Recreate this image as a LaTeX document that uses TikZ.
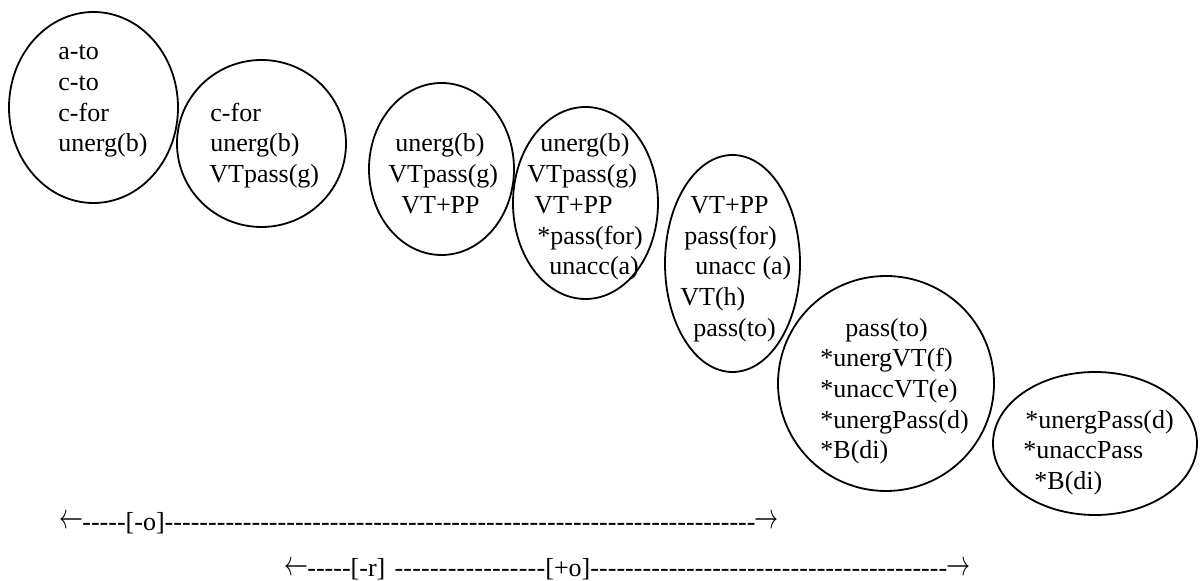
\documentclass[tikz,border=0pt]{standalone}
\usepackage{fontspec}
\setmainfont{Liberation Serif}
\usetikzlibrary{shapes.geometric}
\newcommand\dashrun[1]{\hbox to #1{\xleaders\hbox{-}\hfill}}
\newcommand\hy{\hbox{-}}
\newcommand\tallarrow[1]{\scalebox{1}[1.5]{$#1$}}
\tikzset{
  ell/.style={draw, ellipse, line width=0.9pt, inner sep=0pt},
  lbl/.style={anchor=base west, inner sep=0pt, font=\fontsize{13}{15}\selectfont},
  arr/.style={anchor=center, inner sep=0pt, font=\fontsize{11.5}{13}\selectfont}
}
\begin{document}
\begin{tikzpicture}[x=0.5pt, y=-0.5pt]
\useasboundingbox (0,0) rectangle (1200,581);
% ellipses: center (px), minimum width/height = rx, ry in pt (2r px)
\node[ell, minimum width=84.5pt, minimum height=95.5pt] (e1) at (93.5,107.5) {};
\node[ell, minimum width=84.5pt, minimum height=83.5pt] (e2) at (261.5,143.5) {};
\node[ell, minimum width=72.5pt, minimum height=86pt] (e3) at (441.5,169) {};
\node[ell, minimum width=72.5pt, minimum height=96pt] (e4) at (585.5,203) {};
\node[ell, minimum width=67.5pt, minimum height=108.5pt] (e5) at (732.5,263.5) {};
\node[ell, minimum width=108pt, minimum height=107.5pt] (e6) at (886,383.5) {};
\node[ell, minimum width=102pt, minimum height=71.5pt] (e7) at (1095,443.5) {};
% text lines
\foreach \x/\r/\t [count=\i] in {
  58/0/a-to, 58/1/c-to, 58/2/c-for, 58/3/unerg(b),
  210/2/c-for, 210/3/unerg(b), 209/4/VTpass(g),
  395/3/unerg(b), 388/4/VTpass(g), 401/5/VT+PP,
  540/3/unerg(b), 527/4/VTpass(g), 534/5/VT+PP, 537/6/*pass(for), 549/7/unacc(a),
  690/5/VT+PP, 684/6/pass(for), 695/7/unacc (a), 680/8/VT(h), 693/9/pass(to),
  845/9/pass(to), 820/10/*unergVT(f), 820/11/*unaccVT(e), 820/12/*unergPass(d), 820/13/*B(di),
  1025/12/*unergPass(d), 1023/13/*unaccPass, 1034/14/*B(di)}
  \node[lbl] (t\i) at (\x,{59.9+30.7*\r}) {\t};
% bottom scales
\node[arr] (a1l) at (71,522) {\tallarrow{\leftarrow}};
\node[lbl] (s1) at (82,531) {\hy\hy\hy\hy\hy[\hy o]\dashrun{295.5pt}};
\node[arr] (a1r) at (766.5,522) {\tallarrow{\rightarrow}};
\node[arr] (a2l) at (296,569) {\tallarrow{\leftarrow}};
\node[lbl] (s2a) at (307,577) {\hy\hy\hy\hy\hy[\hy r]};
\node[lbl] (s2b) at (394,577) {\dashrun{75.5pt}[+o]\dashrun{178.5pt}};
\node[arr] (a2r) at (958.5,569) {\tallarrow{\rightarrow}};
\end{tikzpicture}
\end{document}
